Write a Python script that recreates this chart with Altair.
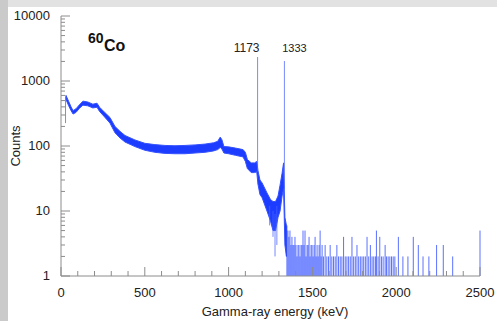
import altair as alt
import pandas as pd

# ---- continuum band of the 60Co spectrum ----
band_kev = [30, 45, 60, 72, 90, 110, 131, 160, 190, 215, 230, 260, 292, 322, 352,
            382, 441, 500, 560, 620, 680, 740, 800, 860, 910, 935, 950, 960, 972,
            1000, 1040, 1086, 1100, 1112, 1135, 1155, 1168, 1175, 1187, 1200, 1229,
            1250, 1265, 1280, 1295, 1307, 1319, 1328, 1336, 1345]
band_low = [520, 420, 350, 310, 330, 380, 425, 415, 385, 395, 340, 280, 225, 160, 133,
            115, 98, 86, 80, 77, 76, 76, 78, 80, 84, 88, 95, 90, 78,
            76, 72, 68, 58, 45, 39, 39, 40, 26, 18, 16, 10,
            7, 5, 5, 8, 10, 17, 22, 3, 2]
band_high = [600, 490, 400, 350, 375, 430, 490, 475, 440, 455, 395, 330, 275, 200, 168,
             145, 124, 110, 105, 102, 101, 102, 104, 107, 112, 118, 137, 125, 98,
             97, 93, 88, 80, 62, 55, 55, 58, 42, 30, 27, 19,
             15, 14, 14, 17, 25, 38, 55, 8, 6]

# ---- thin vertical lines: first channels, the two photopeaks, dips ----
line_kev = [27, 1173, 1333, 1245, 1265, 1277, 1288]
line_low = [225, 40, 22, 6, 4, 2, 3]
line_high = [580, 2340, 2030, 12, 10, 9, 12]

# ---- sparse single-channel counts above 1333 keV ----
spike_kev = [1348, 1354, 1360, 1366, 1372, 1378, 1384, 1390, 1396, 1402, 1408, 1414,
             1420, 1426, 1432, 1438, 1444, 1450, 1456, 1462, 1468, 1474, 1480, 1486,
             1492, 1498, 1504, 1510, 1516, 1522, 1528, 1534, 1540, 1546, 1552, 1558,
             1566, 1576, 1586, 1596, 1606, 1616, 1626, 1636, 1646, 1656, 1666, 1676,
             1686, 1696, 1706, 1716, 1726, 1736, 1746, 1756, 1766, 1776, 1786, 1796,
             1806, 1816, 1826, 1836, 1846, 1856, 1866, 1876, 1882, 1892, 1902, 1912,
             1922, 1934, 1942, 1952, 1962, 1972, 1982, 1992,
             2013, 2040, 2070, 2102, 2132, 2160, 2195, 2241, 2281, 2337, 2500]
spike_counts = [6, 5, 4, 5, 3, 4, 3, 3, 4, 3, 2, 3,
                3, 2, 3, 3, 5, 3, 5, 2, 3, 3, 4, 2,
                3, 3, 2, 3, 4, 2, 3, 2, 3, 5, 2, 3,
                2, 3, 2, 2, 3, 2, 2, 2, 3, 2, 2, 2,
                4, 2, 2, 2, 2, 4, 2, 2, 3, 2, 2, 2,
                2, 2, 4, 2, 3, 2, 2, 2, 5, 2, 4, 2,
                2, 3, 2, 2, 2, 2, 2, 2,
                4, 2, 2, 4, 3, 2, 2, 3, 3, 2, 5]

peak_kev = [1173, 1333]
peak_labels = ["1173", "1333"]

x_ticks_major = [0, 500, 1000, 1500, 2000, 2500]
y_ticks_major = [1, 10, 100, 1000, 10000]
x_title = "Gamma-ray energy (keV)"
y_title = "Counts"

BLUE = "#1c3cff"
FONT = "Liberation Sans"
AXIS_GRAY = "#8c8c8c"
TXT = "#222222"
W, H = 419, 260

band_df = pd.DataFrame({"kev": band_kev, "low": band_low, "high": band_high})
line_df = pd.DataFrame({"kev": line_kev, "low": line_low, "high": line_high})
spike_df = pd.DataFrame({"kev": spike_kev, "count": spike_counts})
peak_df = pd.DataFrame({"kev": peak_kev, "label": peak_labels})

x_minor = [v for v in range(0, 2501, 100) if v not in x_ticks_major]
y_minor = [m * d for d in [1, 10, 100, 1000] for m in range(2, 10)]
xmaj_df = pd.DataFrame({"v": x_ticks_major, "t": [str(v) for v in x_ticks_major]})
xmin_df = pd.DataFrame({"v": x_minor})
ymaj_df = pd.DataFrame({"v": y_ticks_major, "t": [str(v) for v in y_ticks_major]})
ymin_df = pd.DataFrame({"v": y_minor})
one = pd.DataFrame({"a": [0]})

xs = alt.Scale(domain=[0, 2500], nice=False, zero=False)
ys = alt.Scale(type="log", domain=[1, 10000], nice=False)


def X(f):
    return alt.X(f, type="quantitative", scale=xs, axis=None)


def Y(f):
    return alt.Y(f, type="quantitative", scale=ys, axis=None)


# decorative backdrop
panel = alt.Chart(one).mark_rect(color="white").encode(
    x=alt.value(-53), x2=alt.value(W + 20), y=alt.value(-9), y2=alt.value(H + 50))
left_strip = alt.Chart(one).mark_rect(color="#cacaca").encode(
    x=alt.value(-61), x2=alt.value(-53), y=alt.value(-16), y2=alt.value(H + 50))

band = alt.Chart(band_df).mark_area(
    color=BLUE, opacity=1, stroke="#3552ff", strokeWidth=1).encode(
    x=X("kev"), y=Y("low"), y2="high")

spikes = alt.Chart(spike_df).mark_rule(color=BLUE, strokeWidth=1, opacity=0.72).encode(
    x=X("kev"), y=Y("count"), y2=alt.datum(1))

lines = alt.Chart(line_df).mark_rule(color="#4a63ff", strokeWidth=1, opacity=0.75).encode(
    x=X("kev"), y=Y("low"), y2="high")

# axes (domain lines, inward ticks, labels, titles)
gray = dict(color=AXIS_GRAY, strokeWidth=1)
ydom = alt.Chart(one).mark_rule(**gray).encode(
    x=alt.value(0), y=alt.value(0), y2=alt.value(H))
xdom = alt.Chart(one).mark_rule(**gray).encode(
    y=alt.value(H), x=alt.value(0), x2=alt.value(W))
ymaj = alt.Chart(ymaj_df).mark_rule(**gray).encode(
    y=Y("v"), x=alt.value(0), x2=alt.value(9))
ymin = alt.Chart(ymin_df).mark_rule(**gray).encode(
    y=Y("v"), x=alt.value(0), x2=alt.value(4))
xmaj = alt.Chart(xmaj_df).mark_rule(**gray).encode(
    x=X("v"), y=alt.value(H), y2=alt.value(H - 9))
xmin = alt.Chart(xmin_df).mark_rule(**gray).encode(
    x=X("v"), y=alt.value(H), y2=alt.value(H - 5))

ylab = alt.Chart(ymaj_df).mark_text(
    font=FONT, fontSize=13, color=TXT, align="right", baseline="middle").encode(
    y=Y("v"), x=alt.value(-11), text="t:N")
xlab = alt.Chart(xmaj_df).mark_text(
    font=FONT, fontSize=13, color=TXT, align="center", baseline="top").encode(
    x=X("v"), y=alt.value(H + 11), text="t:N")

ytitle = alt.Chart(one).mark_text(
    font=FONT, fontSize=13, color=TXT, align="center", baseline="middle",
    angle=270, text=y_title).encode(x=alt.value(-45), y=alt.value(130))
xtitle = alt.Chart(one).mark_text(
    font=FONT, fontSize=13, color=TXT, align="center", baseline="alphabetic",
    text=x_title).encode(x=alt.value(214), y=alt.value(300))

lab1 = alt.Chart(peak_df.iloc[[0]]).mark_text(
    font=FONT, fontSize=12, color=TXT, baseline="alphabetic", dx=-11).encode(
    x=X("kev"), y=alt.value(36), text="label:N")
lab2 = alt.Chart(peak_df.iloc[[1]]).mark_text(
    font=FONT, fontSize=11, color=TXT, baseline="alphabetic", dx=10).encode(
    x=X("kev"), y=alt.value(36), text="label:N")

iso_mass = alt.Chart(one).mark_text(
    font=FONT, fontSize=14, fontWeight="bold", color="#111", align="left",
    baseline="alphabetic", text="60").encode(x=alt.value(27), y=alt.value(27))
iso_sym = alt.Chart(one).mark_text(
    font=FONT, fontSize=16, fontWeight="bold", color="#111", align="left",
    baseline="alphabetic", text="Co").encode(x=alt.value(43), y=alt.value(35))

chart = alt.layer(
    panel, left_strip, band, spikes, lines,
    ydom, xdom, ymaj, ymin, xmaj, xmin, ylab, xlab, ytitle, xtitle,
    lab1, lab2, iso_mass, iso_sym
).properties(
    width=W, height=H,
    autosize=alt.AutoSizeParams(type="none"),
    padding={"left": 61, "top": 16, "right": 17, "bottom": 45},
    background="#e2e2e2",
).configure_view(strokeWidth=0)

chart.save("out.html", embed_options={"renderer": "svg", "actions": False})
